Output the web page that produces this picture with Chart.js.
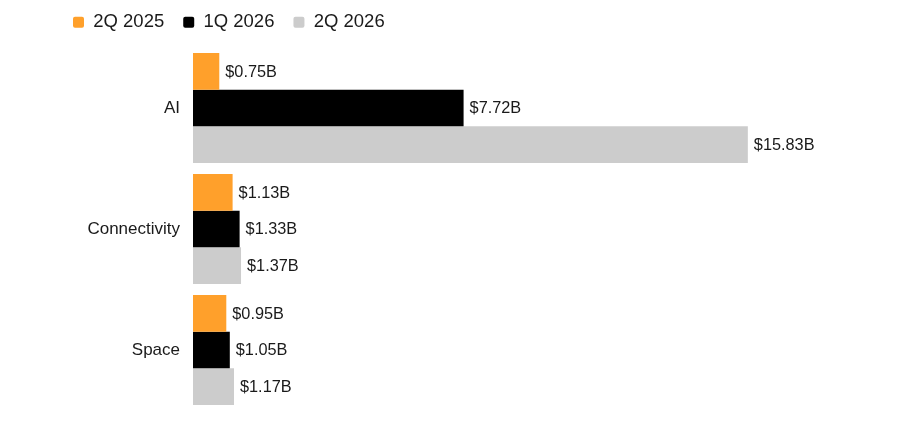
<!DOCTYPE html>
<html>
<head>
<meta charset="utf-8">
<script src="https://cdn.jsdelivr.net/npm/chart.js@4"></script>
<style>
  html, body { margin: 0; padding: 0; background: #fff; }
  #wrap { width: 900px; height: 425px; }
</style>
</head>
<body>
<div id="wrap"><canvas id="chart"></canvas></div>
<script>
// segments and quarterly values (billions of $)
var segments = ['AI', 'Connectivity', 'Space'];
var quarters = ['2Q 2025', '1Q 2026', '2Q 2026'];
var q2_2025 = [0.75, 1.13, 0.95];
var q1_2026 = [7.72, 1.33, 1.05];
var q2_2026 = [15.83, 1.37, 1.17];
var colors = ['#FFA02B', '#000000', '#CCCCCC'];

var FONT = '"Liberation Sans", Arial, Helvetica, sans-serif';

// draws the $x.xxB label just right of each bar
var valueLabels = {
  id: 'valueLabels',
  afterDatasetsDraw: function(chart) {
    var ctx = chart.ctx;
    ctx.save();
    ctx.font = '16.3px ' + FONT;
    ctx.fillStyle = '#1a1a1a';
    ctx.textBaseline = 'middle';
    ctx.textAlign = 'left';
    chart.data.datasets.forEach(function(ds, i) {
      var meta = chart.getDatasetMeta(i);
      meta.data.forEach(function(bar, j) {
        ctx.fillText('$' + ds.data[j].toFixed(2) + 'B', bar.x + 6, bar.y + 1);
      });
    });
    ctx.restore();
  }
};

// fix legend height so plot area starts where the reference does
var legendHeight = {
  id: 'legendHeight',
  beforeInit: function(chart) {
    var fit = chart.legend.fit;
    chart.legend.fit = function() {
      fit.bind(chart.legend)();
      this.height = 53.5;
    };
  }
};

new Chart(document.getElementById('chart'), {
  type: 'bar',
  data: {
    labels: segments,
    datasets: [
      { label: quarters[0], data: q2_2025, backgroundColor: colors[0] },
      { label: quarters[1], data: q1_2026, backgroundColor: colors[1] },
      { label: quarters[2], data: q2_2026, backgroundColor: colors[2] }
    ]
  },
  options: {
    indexAxis: 'y',
    responsive: true,
    maintainAspectRatio: false,
    animation: false,
    barPercentage: 1.0,
    categoryPercentage: 0.91,
    layout: { padding: { left: 54, right: 6, top: -6, bottom: 14.5 } },
    plugins: {
      legend: {
        position: 'top',
        align: 'start',
        labels: {
          boxWidth: 11,
          boxHeight: 11,
          useBorderRadius: true,
          borderRadius: 2,
          padding: 19,
          color: '#1a1a1a',
          font: { family: FONT, size: 18.5 }
        }
      },
      tooltip: { enabled: false }
    },
    scales: {
      x: {
        display: false,
        min: 0,
        max: 20
      },
      y: {
        grid: { display: false, drawTicks: false },
        border: { display: false },
        afterFit: function(scale) {
          scale.width = 139;
          scale.paddingTop = 0;
          scale.paddingBottom = 0;
        },
        ticks: {
          color: '#1a1a1a',
          padding: 13,
          font: { family: FONT, size: 17 }
        }
      }
    }
  },
  plugins: [valueLabels, legendHeight]
});
</script>
</body>
</html>
